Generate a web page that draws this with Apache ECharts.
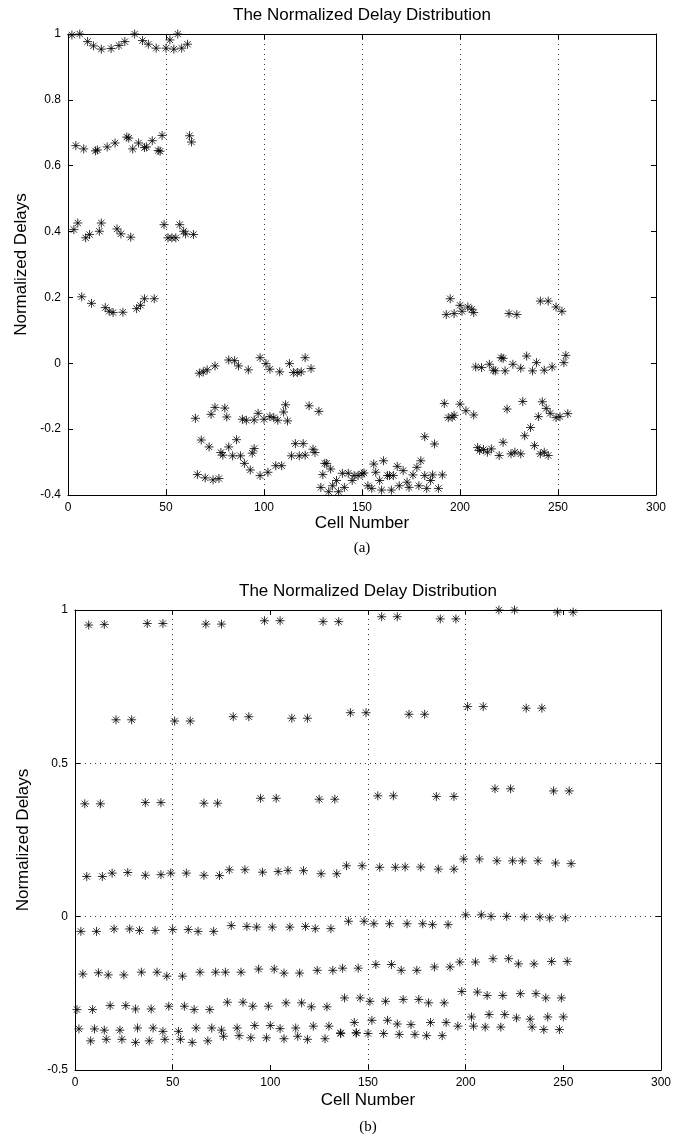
<!DOCTYPE html>
<html>
<head>
<meta charset="utf-8">
<script src="https://cdn.jsdelivr.net/npm/echarts@6/dist/echarts.min.js"></script>
<style>
html, body { margin: 0; padding: 0; background: #fff; }
#chart { width: 682px; height: 1146px; }
</style>
</head>
<body>
<div id="chart"></div>
<script>
// ---- data (a): [cell number, normalized delay] ----
const topBandA = [[2, 0.997], [6, 1.0], [10, 0.977], [13, 0.964], [17, 0.954], [22, 0.956], [26, 0.965], [29, 0.977], [34, 1.0], [38, 0.98], [41, 0.969], [45, 0.957], [50, 0.957], [52, 0.982], [54, 0.954], [56, 1.0], [58, 0.957], [61, 0.969]]
const upperBandA = [[4, 0.661], [8, 0.651], [14, 0.645], [15, 0.648], [20, 0.657], [24, 0.669], [30, 0.687], [31, 0.684], [33, 0.651], [36, 0.669], [39, 0.655], [40, 0.657], [43, 0.676], [46, 0.646], [47, 0.644], [48, 0.692], [62, 0.691], [63, 0.672]]
const midBandA = [[3, 0.406], [5, 0.426], [9, 0.381], [11, 0.391], [16, 0.401], [17, 0.426], [25, 0.408], [27, 0.393], [32, 0.383], [49, 0.421], [51, 0.381], [53, 0.381], [55, 0.381], [57, 0.421], [59, 0.401], [60, 0.393], [64, 0.391]]
const lowBandA = [[7, 0.202], [12, 0.182], [19, 0.169], [21, 0.158], [23, 0.154], [28, 0.155], [35, 0.166], [37, 0.176], [39, 0.196], [44, 0.196]]
const secondGroupA = [
  [67, -0.03], [69, -0.026], [71, -0.02], [75, -0.008], [82, 0.01], [85, 0.008], [87, -0.008], [92, -0.02], [98, 0.017], [101, -0.001], [103, -0.018], [108, -0.026], [113, -0.001], [115, -0.028], [117, -0.028], [119, -0.026], [121, 0.017], [124, -0.016],
  [65, -0.167], [73, -0.155], [75, -0.134], [80, -0.136], [81, -0.163], [89, -0.17], [91, -0.173], [95, -0.172], [97, -0.152], [100, -0.17], [103, -0.162], [105, -0.165], [107, -0.173], [110, -0.148], [111, -0.126], [112, -0.175], [123, -0.129], [128, -0.146],
  [68, -0.233], [72, -0.254], [78, -0.271], [79, -0.279], [82, -0.254], [84, -0.281], [86, -0.232], [88, -0.281], [90, -0.304], [93, -0.324], [94, -0.273], [95, -0.259], [98, -0.341], [102, -0.331], [106, -0.311], [109, -0.311], [114, -0.281], [116, -0.244], [118, -0.281], [120, -0.244], [121, -0.279], [125, -0.261], [126, -0.271],
  [66, -0.338], [70, -0.348], [74, -0.354], [77, -0.35]
]
const thirdGroupA = [[129, -0.377], [130, -0.338], [131, -0.304], [132, -0.304], [133, -0.39], [134, -0.321], [135, -0.372], [137, -0.356], [138, -0.39], [140, -0.334], [141, -0.377], [143, -0.334], [145, -0.356], [146, -0.341], [148, -0.341], [150, -0.336], [151, -0.333], [153, -0.372], [155, -0.38], [156, -0.306], [157, -0.331], [159, -0.356], [160, -0.385], [161, -0.296], [163, -0.341], [164, -0.341], [165, -0.385], [166, -0.341], [168, -0.313], [169, -0.372], [171, -0.326], [173, -0.361], [174, -0.377], [176, -0.339], [178, -0.316], [179, -0.372], [180, -0.296], [182, -0.341], [182, -0.223], [183, -0.38], [185, -0.356], [186, -0.339], [187, -0.245], [189, -0.38], [191, -0.339]]
const fourthGroupA = [
  [193, 0.148], [195, 0.196], [197, 0.151], [200, 0.176], [201, 0.158], [204, 0.171], [206, 0.164], [207, 0.154], [225, 0.151], [229, 0.148], [241, 0.189], [245, 0.189], [249, 0.171], [252, 0.158],
  [208, -0.011], [211, -0.013], [215, -0.003], [217, -0.021], [218, -0.023], [221, 0.017], [222, 0.015], [223, -0.023], [227, -0.003], [231, -0.015], [234, 0.022], [237, -0.023], [239, 0.002], [243, -0.021], [247, -0.011], [253, 0.002], [254, 0.024],
  [192, -0.122], [194, -0.165], [196, -0.164], [197, -0.158], [200, -0.124], [203, -0.144], [207, -0.157], [224, -0.139], [232, -0.116], [240, -0.162], [242, -0.117], [244, -0.137], [246, -0.152], [249, -0.165], [251, -0.162], [255, -0.153],
  [209, -0.256], [210, -0.265], [212, -0.262], [214, -0.27], [216, -0.26], [220, -0.28], [222, -0.24], [226, -0.275], [228, -0.27], [231, -0.275], [233, -0.22], [236, -0.195], [238, -0.25], [241, -0.275], [243, -0.27], [245, -0.28]
]

// ---- data (b) ----
const band1B = [[7, 0.951], [15, 0.953], [37, 0.956], [45, 0.956], [67, 0.954], [75, 0.954], [97, 0.965], [105, 0.965], [127, 0.962], [135, 0.962], [157, 0.978], [165, 0.978], [187, 0.971], [195, 0.971], [217, 1.0], [225, 1.0], [247, 0.993], [255, 0.993]]
const band2B = [[21, 0.642], [29, 0.642], [51, 0.638], [59, 0.638], [81, 0.652], [89, 0.652], [111, 0.647], [119, 0.647], [141, 0.665], [149, 0.665], [171, 0.66], [179, 0.66], [201, 0.685], [209, 0.685], [231, 0.68], [239, 0.68]]
const band3B = [[5, 0.368], [13, 0.368], [36, 0.372], [44, 0.372], [66, 0.37], [73, 0.37], [95, 0.386], [103, 0.386], [125, 0.383], [133, 0.383], [155, 0.394], [163, 0.394], [185, 0.392], [194, 0.392], [215, 0.417], [223, 0.417], [245, 0.41], [253, 0.41]]
const band4B = [[6, 0.131], [14, 0.131], [19, 0.142], [27, 0.144], [36, 0.135], [44, 0.137], [49, 0.142], [57, 0.142], [66, 0.135], [74, 0.134], [79, 0.153], [87, 0.153], [96, 0.145], [104, 0.147], [109, 0.151], [117, 0.15], [126, 0.14], [134, 0.14], [139, 0.166], [147, 0.166], [156, 0.161], [164, 0.161], [169, 0.162], [177, 0.162], [186, 0.155], [194, 0.155], [199, 0.188], [207, 0.188], [216, 0.182], [224, 0.182], [229, 0.182], [237, 0.182], [246, 0.175], [254, 0.173]]
const band5B = [[3, -0.048], [11, -0.048], [20, -0.04], [28, -0.04], [33, -0.045], [41, -0.045], [50, -0.042], [58, -0.042], [63, -0.048], [71, -0.048], [80, -0.029], [88, -0.032], [93, -0.034], [101, -0.034], [110, -0.034], [118, -0.032], [123, -0.039], [131, -0.039], [140, -0.015], [148, -0.015], [153, -0.023], [161, -0.023], [170, -0.023], [178, -0.023], [183, -0.026], [191, -0.026], [200, 0.006], [208, 0.006], [213, 0.001], [221, 0.001], [230, -0.001], [238, -0.001], [243, -0.004], [251, -0.004]]
const band6B = [[4, -0.187], [12, -0.183], [17, -0.19], [25, -0.19], [34, -0.181], [42, -0.181], [47, -0.194], [55, -0.194], [64, -0.181], [72, -0.181], [77, -0.181], [85, -0.181], [94, -0.171], [102, -0.171], [107, -0.184], [115, -0.184], [124, -0.175], [132, -0.175], [137, -0.168], [145, -0.168], [154, -0.156], [162, -0.156], [167, -0.175], [175, -0.175], [184, -0.164], [192, -0.164], [197, -0.148], [205, -0.148], [214, -0.137], [222, -0.137], [227, -0.154], [235, -0.154], [244, -0.146], [252, -0.146]]
const band7B = [[1, -0.303], [9, -0.303], [18, -0.29], [26, -0.29], [31, -0.301], [39, -0.301], [48, -0.292], [56, -0.292], [61, -0.303], [69, -0.303], [78, -0.279], [86, -0.279], [91, -0.292], [99, -0.292], [108, -0.281], [116, -0.281], [121, -0.294], [129, -0.294], [138, -0.265], [146, -0.265], [151, -0.276], [159, -0.276], [168, -0.27], [176, -0.27], [181, -0.281], [189, -0.281], [198, -0.244], [206, -0.246], [211, -0.257], [219, -0.257], [228, -0.251], [236, -0.251], [241, -0.265], [249, -0.265]]
const band8B = [[2, -0.366], [10, -0.366], [15, -0.37], [23, -0.37], [32, -0.363], [40, -0.363], [45, -0.374], [53, -0.374], [62, -0.363], [70, -0.363], [75, -0.37], [83, -0.363], [92, -0.355], [100, -0.355], [105, -0.365], [113, -0.363], [122, -0.357], [130, -0.357], [136, -0.379], [143, -0.345], [144, -0.379], [152, -0.338], [160, -0.338], [165, -0.35], [172, -0.352], [182, -0.345], [190, -0.345], [196, -0.357], [203, -0.327], [212, -0.319], [220, -0.319], [226, -0.33], [233, -0.334], [242, -0.327], [250, -0.327]]
const band9B = [[8, -0.405], [16, -0.4], [24, -0.4], [31, -0.41], [38, -0.405], [46, -0.4], [54, -0.4], [60, -0.41], [68, -0.405], [76, -0.39], [84, -0.388], [90, -0.395], [98, -0.395], [107, -0.398], [114, -0.39], [119, -0.4], [128, -0.398], [136, -0.381], [144, -0.379], [150, -0.381], [158, -0.381], [166, -0.384], [174, -0.384], [180, -0.388], [188, -0.388], [204, -0.357], [210, -0.36], [218, -0.36], [234, -0.36], [240, -0.368], [248, -0.368]]

const xTicks = { min: 0, max: 300, interval: 50 }
const vLinesB = [50, 150, 200]

const FONT = 'Liberation Sans'
const asterisk = 'path://M0,-5L0,5M-5,0L5,0M-3.5,-3.5L3.5,3.5M-3.5,3.5L3.5,-3.5'

function mainX (grid, labelMargin, nameGap, split) {
  return {
    type: 'value', gridIndex: grid, min: xTicks.min, max: xTicks.max, interval: xTicks.interval,
    name: 'Cell Number', nameLocation: 'middle', nameGap: nameGap,
    nameTextStyle: { fontFamily: FONT, fontSize: 17, color: '#000' },
    axisLine: { onZero: false, lineStyle: { color: '#000', width: 1 } },
    axisTick: { inside: true, length: 5, lineStyle: { color: '#000' } },
    axisLabel: { fontFamily: FONT, fontSize: 12, color: '#000', margin: labelMargin },
    splitLine: { show: split, lineStyle: { type: [1, 4], color: '#333', width: 1 } }
  }
}
function mirrorX (grid) {
  return {
    type: 'value', gridIndex: grid, position: 'top', min: xTicks.min, max: xTicks.max, interval: xTicks.interval,
    axisLine: { onZero: false, lineStyle: { color: '#000', width: 1 } },
    axisTick: { inside: true, length: 5, lineStyle: { color: '#000' } },
    axisLabel: { show: false }, splitLine: { show: false }
  }
}
function mainY (grid, min, max, interval, split, nameGap) {
  return {
    type: 'value', gridIndex: grid, min: min, max: max, interval: interval,
    name: 'Normalized Delays', nameLocation: 'middle', nameGap: nameGap,
    nameTextStyle: { fontFamily: FONT, fontSize: 17, color: '#000' },
    axisLine: { onZero: false, lineStyle: { color: '#000', width: 1 } },
    axisTick: { inside: true, length: 5, lineStyle: { color: '#000' } },
    axisLabel: { fontFamily: FONT, fontSize: 12, color: '#000', margin: 7 },
    splitLine: { show: split, lineStyle: { type: [1, 4], color: '#333', width: 1 } }
  }
}
function mirrorY (grid, min, max, interval) {
  return {
    type: 'value', gridIndex: grid, position: 'right', min: min, max: max, interval: interval,
    axisLine: { onZero: false, lineStyle: { color: '#000', width: 1 } },
    axisTick: { inside: true, length: 5, lineStyle: { color: '#000' } },
    axisLabel: { show: false }, splitLine: { show: false }
  }
}
function stars (data, xi, yi) {
  return {
    type: 'scatter', xAxisIndex: xi, yAxisIndex: yi, data: data,
    symbol: asterisk, symbolSize: 9, silent: true, z: 5,
    itemStyle: { color: 'rgba(0,0,0,0)', borderColor: '#000', borderWidth: 1 }
  }
}

const seriesA = [topBandA, upperBandA, midBandA, lowBandA, secondGroupA, thirdGroupA, fourthGroupA].map(d => stars(d, 0, 0))
const seriesB = [band1B, band2B, band3B, band4B, band5B, band6B, band7B, band8B, band9B].map(d => stars(d, 1, 1))
seriesB[0].markLine = {
  silent: true, symbol: 'none', label: { show: false }, animation: false,
  lineStyle: { type: [1, 4], color: '#333', width: 1 },
  data: vLinesB.map(v => ({ xAxis: v }))
}

const myChart = echarts.init(document.getElementById('chart'))
myChart.setOption({
  animation: false,
  backgroundColor: '#fff',
  grid: [
    { left: 68, top: 34, width: 588, height: 461 },
    { left: 75, top: 610, width: 586, height: 460 }
  ],
  xAxis: [mainX(0, 7, 20, true), mainX(1, 7, 22, false), mirrorX(0), mirrorX(1)],
  yAxis: [mainY(0, -0.4, 1, 0.2, false, 38), mainY(1, -0.5, 1, 0.5, true, 43), mirrorY(0, -0.4, 1, 0.2), mirrorY(1, -0.5, 1, 0.5)],
  graphic: [
    { type: 'text', x: 362, y: 15, style: { text: 'The Normalized Delay Distribution', font: '17px "Liberation Sans"', fill: '#000', textAlign: 'center', textVerticalAlign: 'middle' } },
    { type: 'text', x: 362, y: 548, style: { text: '(a)', font: '15px "Liberation Serif"', fill: '#000', textAlign: 'center', textVerticalAlign: 'middle' } },
    { type: 'text', x: 368, y: 591, style: { text: 'The Normalized Delay Distribution', font: '17px "Liberation Sans"', fill: '#000', textAlign: 'center', textVerticalAlign: 'middle' } },
    { type: 'text', x: 368, y: 1127, style: { text: '(b)', font: '15px "Liberation Serif"', fill: '#000', textAlign: 'center', textVerticalAlign: 'middle' } }
  ],
  series: seriesA.concat(seriesB)
})
</script>
</body>
</html>
